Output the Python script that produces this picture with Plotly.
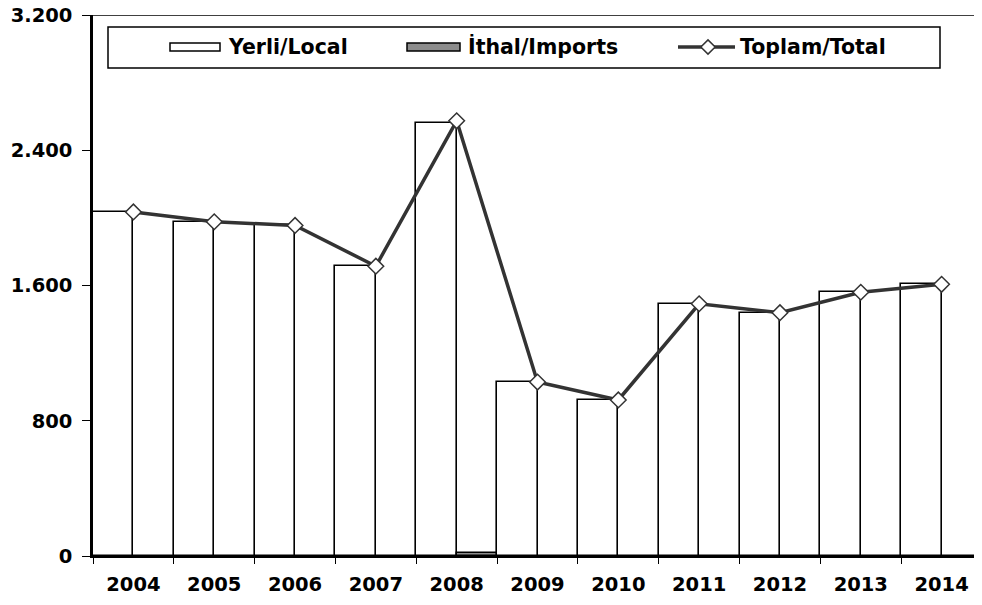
import plotly.graph_objects as go

years = ['2004', '2005', '2006', '2007', '2008', '2009', '2010', '2011', '2012', '2013', '2014']
yerli = [2035, 1977, 1955, 1714, 2561, 1029, 923, 1488, 1439, 1560, 1607]
ithal = [0, 0, 0, 0, 15, 0, 0, 0, 0, 0, 0]
toplam = [2035, 1977, 1955, 1714, 2574, 1029, 923, 1492, 1439, 1560, 1607]

y_ticks = [0, 800, 1600, 2400, 3200]
y_tick_text = ['0', '800', '1.600', '2.400', '3.200']

legend_names = ['Yerli/Local', 'İthal/Imports', 'Toplam/Total']

FONT = 'DejaVu Sans'
OFF = 8  # page body margin
W, H = 982 - OFF, 605 - OFF
L, R, T, B = 93 - OFF, 0, 15 - OFF, 49


# page pixel -> paper coordinates (for the hand drawn legend)
def px(x):
    return (x - OFF - L) / (W - L - R)


def py(y):
    return (H - B - (y - OFF)) / (H - T - B)


fig = go.Figure()

fig.add_trace(go.Bar(
    x=years, y=yerli, name=legend_names[0], showlegend=False,
    marker=dict(color='white', line=dict(color='black', width=1.6))
))
fig.add_trace(go.Bar(
    x=years, y=ithal, name=legend_names[1], showlegend=False,
    marker=dict(color='#8c8c8c', line=dict(color='black', width=1.6))
))
fig.add_trace(go.Scatter(
    x=years, y=toplam, name=legend_names[2], showlegend=False,
    mode='lines+markers',
    line=dict(color='#333333', width=3.5),
    marker=dict(symbol='diamond', size=12, color='white',
                line=dict(color='#333333', width=1.5))
))

fig.update_layout(
    width=W, height=H,
    margin=dict(l=L, r=R, t=T, b=B),
    plot_bgcolor='white', paper_bgcolor='white',
    barmode='group', bargap=0, bargroupgap=0,
    font=dict(family=FONT, size=16, color='black'),
    xaxis=dict(
        type='category', range=[-0.5, len(years) - 0.5],
        showline=True, linecolor='black', linewidth=2,
        ticks='outside', tickson='boundaries', ticklen=6, tickcolor='black',
        tickfont=dict(family=FONT, size=19.5, weight='bold'),
        showgrid=False, automargin=False, ticklabelstandoff=10,
    ),
    yaxis=dict(
        range=[0, 3200], tickvals=y_ticks, ticktext=y_tick_text,
        showline=True, linecolor='black', linewidth=2.5,
        ticks='outside', ticklen=8, tickcolor='black',
        tickfont=dict(family=FONT, size=19.5, weight='bold'),
        showgrid=False, zeroline=False, automargin=False, ticklabelstandoff=6,
        ticklabeloverflow='allow',
    ),
    xaxis2=dict(overlaying='x', range=[0, 1], visible=False, fixedrange=True),
    yaxis2=dict(overlaying='y', range=[0, 1], visible=False, fixedrange=True),
)

# top border line at 3.200
fig.add_shape(type='line', xref='paper', yref='y', x0=px(85), x1=1, y0=3200, y1=3200,
              line=dict(color='black', width=1.5))

# legend box and symbols
fig.add_shape(type='rect', xref='paper', yref='paper', layer='below',
              x0=px(108), x1=px(940), y0=py(68), y1=py(27),
              line=dict(color='black', width=1.5), fillcolor='white')
fig.add_shape(type='rect', xref='paper', yref='paper', layer='below',
              x0=px(170), x1=px(220), y0=py(51), y1=py(43),
              line=dict(color='black', width=1.5), fillcolor='white')
fig.add_shape(type='rect', xref='paper', yref='paper', layer='below',
              x0=px(407), x1=px(460), y0=py(51), y1=py(43),
              line=dict(color='black', width=1.5), fillcolor='#8c8c8c')
fig.add_shape(type='line', xref='paper', yref='paper', layer='below',
              x0=px(678), x1=px(735), y0=py(47), y1=py(47),
              line=dict(color='#333333', width=3.5))
fig.add_trace(go.Scatter(
    x=[px(708)], y=[py(47)], xaxis='x2', yaxis='y2', mode='markers',
    showlegend=False, hoverinfo='skip',
    marker=dict(symbol='diamond', size=11, color='white',
                line=dict(color='#333333', width=1.5))
))

for name, x in zip(legend_names, [228, 468, 740]):
    fig.add_annotation(xref='paper', yref='paper', x=px(x), y=py(47),
                       text=name, showarrow=False, xanchor='left', yanchor='middle',
                       xshift=-2, font=dict(family=FONT, size=20.5, weight='bold', color='black'))

fig.write_html('out.html')
